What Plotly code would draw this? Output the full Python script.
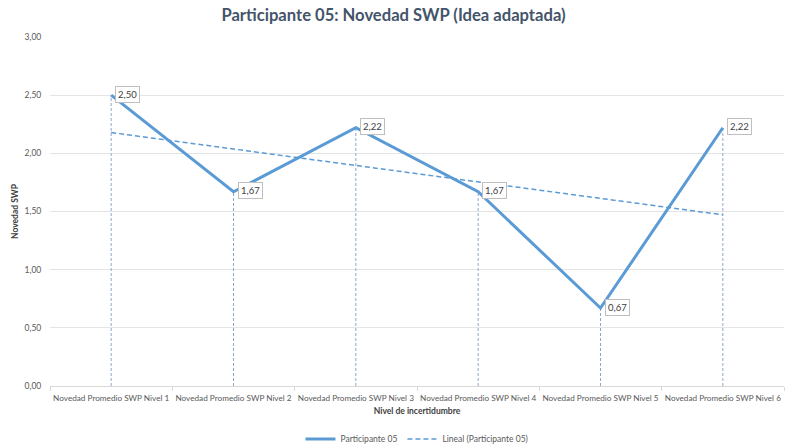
import numpy as np
import plotly.graph_objects as go

categories = [f"Novedad Promedio SWP Nivel {i}" for i in range(1, 7)]
values = [2.50, 1.67, 2.22, 1.67, 0.67, 2.22]
series_name = "Participante 05"
trend_name = "Lineal (Participante 05)"
y_ticks = [0, 0.5, 1.0, 1.5, 2.0, 2.5, 3.0]

# linear trendline (least squares, as in the spreadsheet)
idx = np.arange(1, len(values) + 1)
slope, intercept = np.polyfit(idx, values, 1)
trend = list(slope * idx + intercept)

BLUE = "#5B9BD5"
FONT = "Lato"

fig = go.Figure()

# drop lines
dx, dy = [], []
for c, v in zip(categories, values):
    dx += [c, c, None]
    dy += [0, v, None]
fig.add_trace(go.Scatter(x=dx, y=dy, mode="lines", showlegend=False, hoverinfo="skip",
                         line=dict(color="#8EA6CC", width=1, dash="3px,2px")))

fig.add_trace(go.Scatter(x=categories, y=values, mode="lines", name=series_name,
                         line=dict(color=BLUE, width=3)))
fig.add_trace(go.Scatter(x=categories, y=trend, mode="lines", name=trend_name,
                         line=dict(color=BLUE, width=1.5, dash="5px,3px")))

for c, v in zip(categories, values):
    fig.add_annotation(x=c, y=v, text=f"{v:.2f}".replace(".", ","), showarrow=False,
                       xanchor="left", yanchor="middle", xshift=4, yshift=1,
                       bgcolor="white", bordercolor="#BFBFBF", borderwidth=1, borderpad=2,
                       font=dict(family=FONT, size=9.5, color="#404040"))

fig.update_layout(
    width=787, height=448,
    margin=dict(l=50, r=3, t=37, b=62, autoexpand=False),
    paper_bgcolor="white", plot_bgcolor="white",
    separators=",.",
    title=dict(text="<b>Participante 05: Novedad SWP (Idea adaptada)</b>", x=0.5, xanchor="center",
               y=0.966, yanchor="middle", font=dict(family=FONT, size=16.6, color="#44546A")),
    legend=dict(orientation="h", x=0.5, xanchor="center", y=-0.152, yanchor="middle",
                font=dict(family=FONT, size=8.5, color="#595959"), itemwidth=30),
    showlegend=True,
)
fig.update_yaxes(range=[0, 3], tickvals=y_ticks, tickformat=".2f", showgrid=True,
                 gridcolor="#E4E4E4", gridwidth=1, zeroline=False, showline=False,
                 automargin=False,
                 tickfont=dict(family=FONT, size=8.5, color="#595959"),
                 ticks="outside", ticklen=6, tickcolor="rgba(0,0,0,0)",
                 title=dict(text="<b>Novedad SWP</b>", standoff=4,
                            font=dict(family=FONT, size=8.5, color="#404040")))
fig.update_xaxes(type="category", range=[-0.5, 5.5], tickson="boundaries", ticks="outside",
                 ticklen=4, tickcolor="#D9D9D9", showline=True, linecolor="#D9D9D9", linewidth=1,
                 showgrid=False, tickangle=0, automargin=False, ticklabelstandoff=4,
                 tickfont=dict(family=FONT, size=8.2, color="#595959"),
                 title=dict(text="<b>Nivel de incertidumbre</b>", standoff=6,
                            font=dict(family=FONT, size=8.5, color="#404040")))

fig.write_html(
    "out.html",
    config={"responsive": False, "displayModeBar": False},
    post_script="document.body.style.margin='0';document.body.style.overflow='hidden';",
)
